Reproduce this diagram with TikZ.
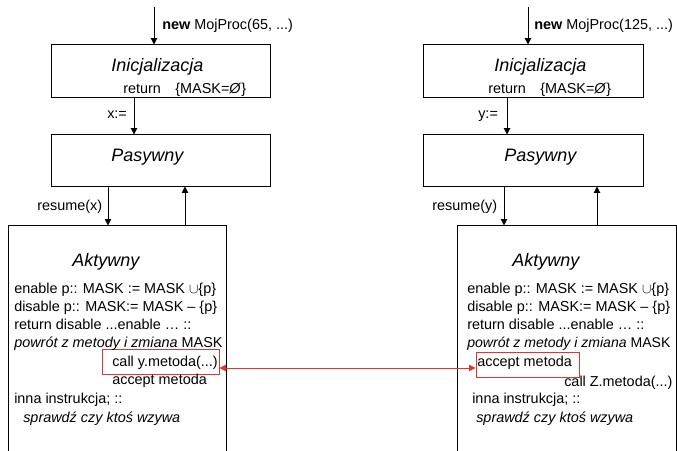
\documentclass[tikz,border=0pt]{standalone}
\usepackage{fontspec}
\setmainfont{Liberation Sans}
\usetikzlibrary{arrows.meta}
\definecolor{markred}{RGB}{228,52,52}
\newcommand{\stanfont}{\fontsize{10.25pt}{12.8pt}\selectfont}
\newcommand{\stantitle}{\fontsize{12.8pt}{15pt}\selectfont\itshape}
\tikzset{
  stanbox/.style={draw, line width=0.7pt, inner sep=0pt},
  markbox/.style={draw=markred, line width=0.7pt, inner sep=0pt},
  txt/.style={inner sep=0pt, anchor=base west, font=\stanfont},
  title/.style={inner sep=0pt, anchor=base west, font=\stantitle},
  arr/.style={-{Triangle[length=4.5pt,width=4.5pt]}, line width=0.7pt},
  linkarr/.style={{Triangle[length=4.5pt,width=4.5pt]}-{Triangle[length=4.5pt,width=4.5pt]}, draw=markred, line width=0.7pt}
}
\begin{document}
\begin{tikzpicture}[x=0.025cm,y=-0.025cm]
                \clip (0,0) rectangle (677,451);
                
                % Drawing process x (left)
                \node [stanbox, minimum width=5.45cm, minimum height=1.3cm] (init1) at (161,71) {};%
                \node [stanbox, minimum width=5.45cm, minimum height=1.275cm] (pas1) at (161,160.5) {};%
                \node [stanbox, minimum width=5.425cm, minimum height=6.1cm] (akt1) at (117.5,348) {};%
                \node [markbox, minimum width=2.9cm, minimum height=0.625cm] (call1) at (161,361.5) {};%
                
                % Drawing process y (right)
                \node [stanbox, minimum width=5.475cm, minimum height=1.3cm] (init2) at (533.5,71) {};%
                \node [stanbox, minimum width=5.475cm, minimum height=1.275cm] (pas2) at (533.5,160.5) {};%
                \node [stanbox, minimum width=5.45cm, minimum height=6.1cm] (akt2) at (567,348) {};%
                \node [markbox, minimum width=2.575cm, minimum height=0.625cm] (acc2) at (527.5,364.5) {};%
                
                % Labels of process x
                \node [txt] (new1) at (162,30) {\textbf{new} MojProc(65, ...)};%
                \node [title] (tinit1) at (111,72) {Inicjalizacja};%
                \node [txt] (ret1) at (123,94) {return\quad\{MASK=\textit{Ø}\}};%
                \node [txt] (xas) at (107,119) {x:=};%
                \node [title] (tpas1) at (111,162) {Pasywny};%
                \node [txt] (res1) at (37,211) {resume(x)};%
                \node [title] (takt1) at (72,267) {Aktywny};%
                \node [txt] (en1) at (14,294) {enable p:: MASK := MASK $\cup$\{p\}};%
                \node [txt] (dis1) at (14,312) {disable p:: MASK:= MASK – \{p\}};%
                \node [txt] (rd1) at (14,330) {return disable ...enable … ::};%
                \node [txt] (pw1) at (14,348) {\textit{powrót z metody i zmiana} MASK};%
                \node [txt] (cy1) at (112,367) {call y.metoda(...)};%
                \node [txt] (am1) at (112,385) {accept metoda};%
                \node [txt] (in1) at (14,404) {inna instrukcja; ::};%
                \node [txt] (sp1) at (23,422) {\textit{sprawdź czy ktoś wzywa}};%
                
                % Labels of process y
                \node [txt] (new2) at (534,30) {\textbf{new} MojProc(125, ...)};%
                \node [title] (tinit2) at (494,72) {Inicjalizacja};%
                \node [txt] (ret2) at (488,94) {return\quad\{MASK=\textit{Ø}\}};%
                \node [txt] (yas) at (478,119) {y:=};%
                \node [title] (tpas2) at (504,162) {Pasywny};%
                \node [txt] (res2) at (432,211) {resume(y)};%
                \node [title] (takt2) at (512,267) {Aktywny};%
                \node [txt] (en2) at (467,294) {enable p:: MASK := MASK $\cup$\{p\}};%
                \node [txt] (dis2) at (467,312) {disable p:: MASK:= MASK – \{p\}};%
                \node [txt] (rd2) at (467,330) {return disable ...enable … ::};%
                \node [txt, font=\fontsize{10pt}{12.8pt}\selectfont] (pw2) at (467,348) {\textit{powrót z metody i zmiana} MASK};%
                \node [txt] (am2) at (477,367) {accept metoda};%
                \node [txt] (cz2) at (564,387) {call Z.metoda(...)};%
                \node [txt] (in2) at (472,404) {inna instrukcja; ::};%
                \node [txt] (sp2) at (476,422) {\textit{sprawdź czy ktoś wzywa}};%
                
                % Drawing arrows of process x
                \coordinate (start1) at (154,7);%
                \draw [arr] (start1) -- (start1 |- init1.north);%
                \draw [arr] (init1.south -| 134,0) -- (pas1.north -| 134,0);%
                \draw [arr] (pas1.south -| 108,0) -- (akt1.north -| 108,0);%
                \draw [arr] (akt1.north -| 185,0) -- (pas1.south -| 185,0);%
                
                % Drawing arrows of process y
                \coordinate (start2) at (528,7);%
                \draw [arr] (start2) -- (start2 |- init2.north);%
                \draw [arr] (init2.south -| 507,0) -- (pas2.north -| 507,0);%
                \draw [arr] (pas2.south -| 504,0) -- (akt2.north -| 504,0);%
                \draw [arr] (akt2.north -| 597,0) -- (pas2.south -| 597,0);%
                
                % Drawing link call -- accept
                \coordinate (link) at (0,368);%
                \draw [linkarr] (call1.east |- link) -- (acc2.west |- link);%
\end{tikzpicture}
\end{document}
